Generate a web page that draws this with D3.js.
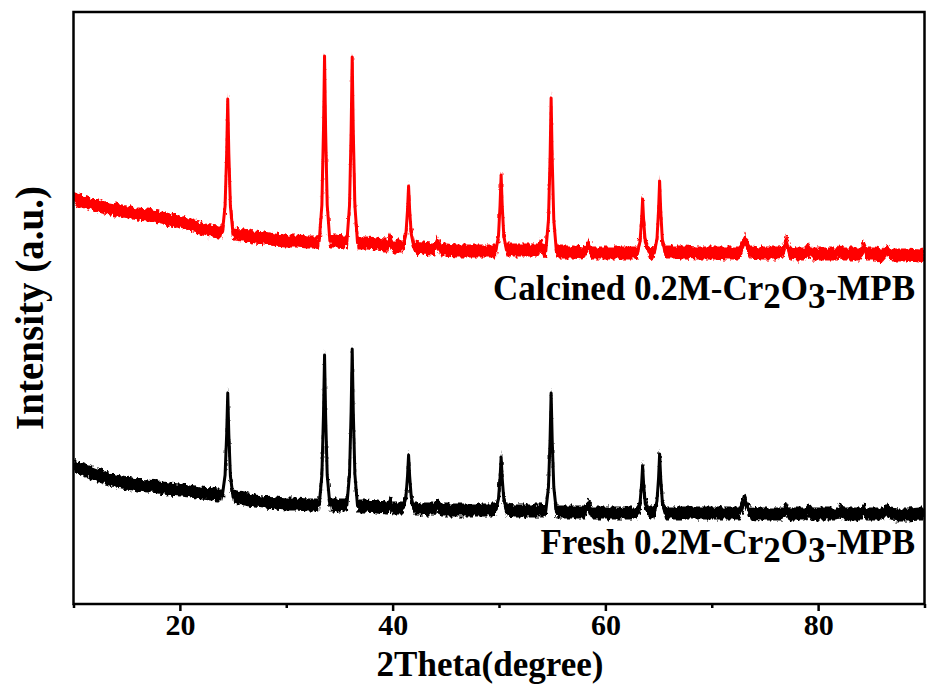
<!DOCTYPE html>
<html>
<head>
<meta charset="utf-8">
<script src="https://cdn.jsdelivr.net/npm/d3@7"></script>
<style>
  html, body { margin: 0; padding: 0; background: #fff; }
  svg { display: block; }
  text { font-family: "Liberation Serif", "Times New Roman", serif; font-weight: bold; fill: #000; }
</style>
</head>
<body>
<svg id="chart" width="927" height="695"></svg>
<script>
// XRD patterns of the fresh and calcined 0.2M-Cr2O3-MPB samples (intensity in a.u., stacked)
const twoTheta = [
  10, 11, 12, 13, 14, 15, 16, 17, 18, 19, 20, 21, 22, 23, 23.6,
  24.0, 24.25, 24.4, 24.5, 24.6, 24.75, 25.0,
  26, 27, 28, 29, 30, 31, 32, 32.7,
  33.1, 33.35, 33.5, 33.6, 33.7, 33.85, 34.1,
  34.8, 35.4,
  35.7, 35.95, 36.1, 36.2, 36.3, 36.45, 36.7,
  37.5, 38.5, 39.3,
  39.5, 39.75, 40.0,
  40.6,
  41.0, 41.25, 41.4, 41.5, 41.6, 41.75, 42.0,
  42.8, 43.6,
  43.9, 44.2, 44.5,
  45, 46, 47, 48, 49, 49.5,
  49.7, 49.95, 50.1, 50.2, 50.3, 50.45, 50.7,
  51.5, 52.5, 53.4,
  53.7, 53.9, 54.1,
  54.4, 54.65, 54.8, 54.9, 55.0, 55.15, 55.4,
  56, 57, 57.9,
  58.1, 58.4, 58.7,
  59.5, 60.5, 61.5, 62.5,
  63.0, 63.25, 63.4, 63.5, 63.6, 63.75, 64.1,
  64.6, 64.85, 65.0, 65.1, 65.2, 65.35, 65.6,
  66.5, 67.5, 68.5, 69.5, 70.5, 71.5,
  72.6, 72.9, 73.1, 73.3, 73.6,
  74.5, 75.5, 76.3,
  76.7, 77.0, 77.3,
  78, 78.8,
  79.1, 79.4,
  80, 81, 81.8,
  82.1, 82.4,
  83, 84.0,
  84.3, 84.6,
  85.3, 86.1,
  86.5, 86.8,
  87.5, 88.5, 89.5, 90
];

const calcined = [
  406, 402, 399, 396, 394, 392, 390, 389, 387, 384, 382, 379, 375, 373, 372,
  372, 398, 451, 505, 451, 398, 370,
  369, 367, 366, 364, 363, 363, 362, 362,
  363, 399, 474, 548, 474, 399, 363,
  363, 362,
  362, 399, 473, 547, 473, 399, 361,
  361, 360, 359,
  359, 365, 358,
  358,
  358, 370, 394, 418, 394, 370, 357,
  356, 355,
  355, 363, 354,
  354, 353, 353, 353, 353, 353,
  353, 368, 399, 429, 399, 368, 354,
  354, 354, 354,
  354, 360, 354,
  353, 384, 445, 506, 445, 384, 352,
  352, 352, 351,
  352, 360, 351,
  351, 351, 351, 351,
  351, 362, 383, 405, 383, 362, 352,
  351, 365, 394, 423, 394, 365, 352,
  352, 352, 351, 351, 351, 351,
  351, 358, 366, 359, 352,
  351, 351, 351,
  352, 363, 351,
  350, 350,
  355, 350,
  350, 350, 350,
  354, 350,
  350, 350,
  358, 350,
  350, 349,
  354, 349,
  349, 349, 348, 349
];

const fresh = [
  138, 134, 130, 126, 123, 121, 119, 118, 117, 115, 114, 113, 111, 110, 109,
  109, 129, 170, 211, 170, 128, 107,
  105, 103, 102, 101, 100, 100, 99, 99,
  99, 129, 189, 249, 189, 129, 99,
  99, 99,
  99, 130, 193, 255, 193, 130, 98,
  98, 97, 96,
  96, 101, 96,
  96,
  96, 107, 128, 149, 128, 107, 95,
  95, 95,
  95, 99, 94,
  94, 94, 94, 94, 94, 94,
  94, 105, 126, 147, 126, 105, 94,
  93, 93, 93,
  93, 95, 93,
  93, 117, 164, 211, 164, 117, 92,
  92, 92, 92,
  92, 100, 91,
  91, 91, 91, 91,
  91, 100, 119, 138, 119, 100, 91,
  91, 103, 126, 150, 126, 103, 91,
  91, 91, 91, 91, 91, 91,
  91, 98, 105, 99, 91,
  90, 90, 90,
  90, 96, 90,
  90, 90,
  94, 90,
  90, 90, 90,
  94, 90,
  90, 90,
  95, 90,
  90, 90,
  95, 90,
  89, 89, 90, 90
];

const xTicks = [20, 40, 60, 80];
const xMinorTicks = [10, 30, 50, 70, 90];
const xDomain = [10, 90];
const yDomain = [0, 592];

const seriesNames = ["Calcined", "Fresh"];
const seriesColors = ["#ff0000", "#000000"];
const sampleFormula = [["0.2M-Cr", false], ["2", true], ["O", false], ["3", true], ["-MPB", false]];

const xTitle = "2Theta(degree)";
const yTitle = "Intensity (a.u.)";

// ---- layout ----
const plot = { left: 73.5, right: 924.5, top: 12, bottom: 604 };
const svg = d3.select("#chart");

const x = d3.scaleLinear().domain(xDomain).range([plot.left, plot.right]);
const y = d3.scaleLinear().domain(yDomain).range([plot.bottom, plot.top]);

const defs = svg.append("defs");
defs.append("clipPath").attr("id", "plotClip")
  .append("rect")
  .attr("x", plot.left).attr("y", plot.top)
  .attr("width", plot.right - plot.left).attr("height", plot.bottom - plot.top);

// rough edge for the counting-noise band of each trace
const rough = defs.append("filter").attr("id", "rough")
  .attr("x", "-2%").attr("y", "-5%").attr("width", "104%").attr("height", "110%");
rough.append("feTurbulence")
  .attr("type", "fractalNoise").attr("baseFrequency", "0.3 0.18")
  .attr("numOctaves", 2).attr("seed", 7).attr("result", "noise");
rough.append("feDisplacementMap")
  .attr("in", "SourceGraphic").attr("in2", "noise")
  .attr("scale", 7).attr("xChannelSelector", "R").attr("yChannelSelector", "G");

const series = [calcined, fresh].map((vals, i) => ({
  name: seriesNames[i],
  color: seriesColors[i],
  points: twoTheta.map((t, j) => ({ t, v: vals[j] }))
}));

const bandHalf = 6.5;
const band = d3.area()
  .x(d => x(d.t))
  .y0(d => y(d.v) + bandHalf)
  .y1(d => y(d.v) - bandHalf);
const line = d3.line()
  .x(d => x(d.t))
  .y(d => y(d.v));

const traces = svg.append("g").attr("clip-path", "url(#plotClip)");
series.forEach(s => {
  const g = traces.append("g");
  g.append("path")
    .attr("d", band(s.points))
    .attr("fill", s.color)
    .attr("filter", "url(#rough)");
  g.append("path")
    .attr("d", line(s.points))
    .attr("fill", "none")
    .attr("stroke", s.color)
    .attr("stroke-width", 3)
    .attr("stroke-linejoin", "round");
});

// ---- frame and axis ----
svg.append("rect")
  .attr("x", plot.left).attr("y", plot.top)
  .attr("width", plot.right - plot.left).attr("height", plot.bottom - plot.top)
  .attr("fill", "none").attr("stroke", "#000").attr("stroke-width", 2.5);

const xAxis = svg.append("g")
  .attr("transform", `translate(0,${plot.bottom})`)
  .call(d3.axisBottom(x).tickValues(xTicks).tickSize(7).tickPadding(3).tickFormat(d3.format("d")));
xAxis.select(".domain").remove();
xAxis.selectAll(".tick line").attr("stroke", "#000").attr("stroke-width", 2.5);
xAxis.selectAll(".tick text")
  .attr("font-family", "Liberation Serif, Times New Roman, serif")
  .attr("font-weight", "bold")
  .attr("font-size", 30)
  .attr("fill", "#000");

const xMinor = svg.append("g")
  .attr("transform", `translate(0,${plot.bottom})`)
  .call(d3.axisBottom(x).tickValues(xMinorTicks).tickSize(4).tickFormat(""));
xMinor.select(".domain").remove();
xMinor.selectAll(".tick line").attr("stroke", "#000").attr("stroke-width", 2.5);

svg.append("text")
  .attr("x", 490).attr("y", 676)
  .attr("text-anchor", "middle")
  .attr("font-size", 35)
  .text(xTitle);

svg.append("text")
  .attr("transform", "translate(43,308) rotate(-90)")
  .attr("text-anchor", "middle")
  .attr("font-size", 39)
  .text(yTitle);

// ---- sample labels ----
const labelBaselines = [300, 554];
series.forEach((s, i) => {
  const t = svg.append("text")
    .attr("x", 915).attr("y", labelBaselines[i])
    .attr("text-anchor", "end")
    .attr("font-size", 35);
  t.append("tspan").text(s.name + " ");
  let shifted = false;
  sampleFormula.forEach(([part, sub]) => {
    const ts = t.append("tspan").text(part);
    if (sub && !shifted) { ts.attr("dy", 8); shifted = true; }
    else if (!sub && shifted) { ts.attr("dy", -8); shifted = false; }
  });
});
</script>
</body>
</html>
